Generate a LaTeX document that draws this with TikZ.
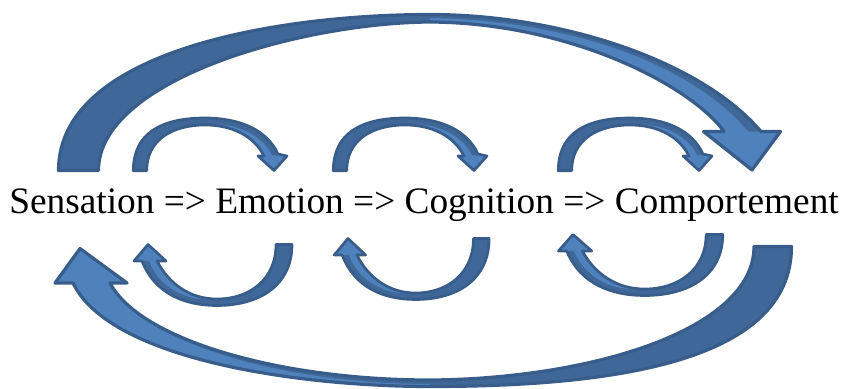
\documentclass[tikz,border=0pt]{standalone}
\usepackage{fontspec}
\setmainfont{Liberation Serif}
\usetikzlibrary{positioning}
\definecolor{LoopBlue}{HTML}{4F81BD}
\definecolor{LoopDeep}{HTML}{3F6797}
\definecolor{LoopEdge}{HTML}{385D8A}

\begin{document}
\begin{tikzpicture}[x=0.75pt,y=-0.75pt,
    back/.style={fill=LoopDeep},
    front/.style={fill=LoopBlue},
    rim/.style={draw=LoopEdge, line width=#1, line join=round},
    rim/.default=2pt,
    words/.style={font=\fontsize{28}{34}\selectfont, inner sep=0pt, anchor=base}
  ]
  \useasboundingbox (0,0) rectangle (843,389);

  % Chain of terms
  \node[words] (chain) at (424,213) {Sensation => Emotion => Cognition => Comportement};

  % Big loop, top
  \path[save path=\topband]
    (58.5,170.5) .. controls (58.5,50) and (280,14.5) .. (430,14.5)
    .. controls (560,14.5) and (700,60) .. (761,131.5)
    -- (780.5,131.5) -- (752,170) -- (703.5,131.5) -- (724,131.5)
    .. controls (690,85) and (570,23) .. (430,22)
    .. controls (300,23) and (98.5,80) .. (98.5,170.5) -- cycle;
  \fill[back, use path=\topband];
  \fill[front] (430,18) .. controls (565,20) and (690,62) .. (748,131.5)
    -- (780.5,131.5) -- (752,170) -- (703.5,131.5) -- (724,131.5)
    .. controls (690,85) and (570,23) .. (430,22) -- cycle;
  \draw[rim=2.4pt, use path=\topband];

  % Big loop, bottom
  \path[save path=\lowband]
    (754,246.5) -- (791.5,246.5) .. controls (791.5,360) and (620,386.5) .. (430,386.5)
    .. controls (300,386.5) and (110,360) .. (73,283)
    -- (55,283) -- (80,248.5) -- (127,283) -- (110,283)
    .. controls (140,340) and (280,380) .. (430,380)
    .. controls (590,379) and (754,330) .. (754,246.5) -- cycle;
  \fill[back, use path=\lowband];
  \fill[front] (430,386.5) .. controls (300,386.5) and (110,360) .. (73,283)
    -- (55,283) -- (80,248.5) -- (127,283) -- (110,283)
    .. controls (140,342) and (280,384) .. (430,384) -- cycle;
  \draw[rim=2.4pt, use path=\lowband];

  % Small loops above the terms
  \foreach \x in {132,332,557} {
    \begin{scope}[shift={(\x,172)}]
      \path[save path=\hop] (1.3,-1.3) .. controls (1.3,-47) and (43,-54) .. (73,-54)
        .. controls (108,-54) and (135,-42) .. (146,-18)
        -- (155,-16) -- (142,-1.5) -- (126,-16) -- (132,-16)
        .. controls (122,-36) and (100,-47) .. (73,-47)
        .. controls (40,-47) and (14.7,-32) .. (14.7,-1.3) -- cycle;
      \fill[back, use path=\hop];
      \fill[front] (132,-16) .. controls (122,-36) and (100,-47) .. (73,-47)
        .. controls (100,-50) and (128,-40) .. (140,-17)
        -- (155,-16) -- (142,-1.5) -- (126,-16) -- cycle;
      \draw[rim, use path=\hop];
    \end{scope}
  }

  % Small loops below the terms
  \foreach \x/\y/\s in {148/243/1, 348/237/0.98, 573/233/1.04} {
    \begin{scope}[shift={(\x,\y)}, xscale=\s]
      \path[save path=\dip] (128,1.5) -- (144,1.5)
        .. controls (144,42) and (112,62.5) .. (69,62.5)
        .. controls (37,62.5) and (7,51) .. (-6,18)
        -- (-14,18) -- (0,1.5) -- (18,18) -- (9,18)
        .. controls (21,41) and (42,56) .. (69,56)
        .. controls (102,56) and (128,36) .. (128,1.5) -- cycle;
      \fill[back, use path=\dip];
      \fill[front] (-14,18) -- (0,1.5) -- (18,18) -- (9,18)
        .. controls (21,41) and (42,56) .. (69,56)
        .. controls (40,59) and (12,46) .. (1,18) -- cycle;
      \draw[rim, use path=\dip];
    \end{scope}
  }

\end{tikzpicture}
\end{document}
